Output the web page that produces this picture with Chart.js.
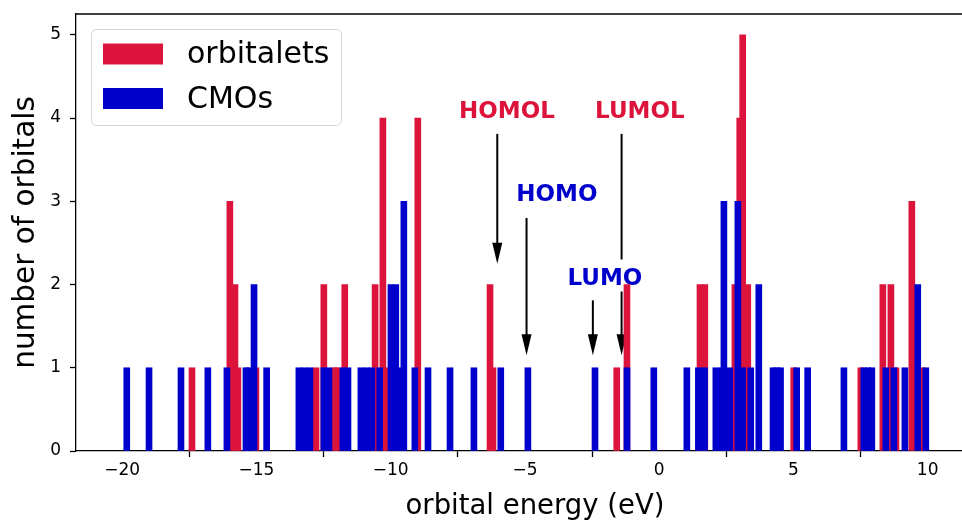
<!DOCTYPE html>
<html>
<head>
<meta charset="utf-8">
<title>orbital energies</title>
<script src="https://cdn.jsdelivr.net/npm/chart.js@4.4.1/dist/chart.umd.min.js"></script>
<style>
  html, body { margin: 0; padding: 0; background: #fff; overflow: hidden; }
  #wrap { width: 962px; height: 520px; position: relative; overflow: hidden; }
  #chart { display: block; }
</style>
</head>
<body>
<div id="wrap"><canvas id="chart" width="1010" height="520"></canvas></div>
<script>
// orbital energies (eV) and the number of orbitals found at each one
var orbitaletEnergies = [-17.40, -15.99, -15.80, -15.69, -15.02, -12.78, -12.49, -12.08, -11.99, -11.71,
  -10.58, -10.29, -10.20, -8.99, -6.30, -6.19, -1.58, -1.20, 1.52, 1.70,
  2.82, 3.00, 3.11, 3.30, 5.01, 7.51, 8.33, 8.63, 8.82, 9.41, 9.78];
var orbitaletCounts = [1, 3, 2, 1, 1, 1, 2, 1, 1, 2,
  2, 4, 1, 4, 2, 1, 1, 2, 2, 2,
  2, 4, 5, 2, 1, 1, 2, 2, 1, 3, 1];

var cmoEnergies = [-19.83, -19.00, -17.81, -16.81, -16.10, -15.39, -15.28, -15.09, -14.62, -13.42,
  -13.22, -13.01, -12.49, -12.30, -11.78, -11.59, -11.11, -10.90, -10.70, -10.41,
  -9.99, -9.81, -9.66, -9.51, -9.10, -8.61, -7.79, -6.90, -5.90, -4.89,
  -2.39, -1.20, -0.20, 1.03, 1.46, 1.69, 2.11, 2.33, 2.41, 2.63,
  2.93, 3.11, 3.41, 3.71, 4.24, 4.38, 4.52, 5.12, 5.53, 6.88,
  7.62, 7.77, 7.92, 8.44, 8.74, 9.15, 9.63, 9.93];
var cmoCounts = [1, 1, 1, 1, 1, 1, 1, 2, 1, 1,
  1, 1, 1, 1, 1, 1, 1, 1, 1, 1,
  2, 2, 1, 3, 1, 1, 1, 1, 1, 1,
  1, 1, 1, 1, 1, 1, 1, 1, 3, 1,
  3, 1, 1, 2, 1, 1, 1, 1, 1, 1,
  1, 1, 1, 1, 1, 1, 2, 1];

var seriesNames = ["orbitalets", "CMOs"];
var xTicks = [-20, -15, -10, -5, 0, 5, 10];
var yTicks = [0, 1, 2, 3, 4, 5];

var RED = "#DC143C";
var BLUE = "#0000CD";
var FONT = "'DejaVu Sans', 'Liberation Sans', sans-serif";

// frontier orbital arrows (energy, arrow top/bottom in counts, label anchor)
var markers = [
  { label: "HOMOL", color: RED,  x: -6.03, from: 3.81, to: 2.25, tx: -5.67, ty: 4.0 },
  { label: "HOMO",  color: BLUE, x: -4.94, from: 2.80, to: 1.15, tx: -3.81, ty: 3.0 },
  { label: "LUMOL", color: RED,  x: -1.40, from: 3.81, to: 1.15, tx: -0.72, ty: 4.0 },
  { label: "LUMO",  color: BLUE, x: -2.47, from: 1.81, to: 1.15, tx: -2.02, ty: 2.0, knockout: true }
];

function toPoints(xs, ys) {
  return xs.map(function (v, i) { return { x: v, y: ys[i] }; });
}

var markerPlugin = {
  id: "markers",
  beforeDatasetsDraw: function (chart) {
    var ctx = chart.ctx, sx = chart.scales.x, sy = chart.scales.y;
    ctx.save();
    markers.forEach(function (m) {
      var px = sx.getPixelForValue(m.x);
      var y0 = sy.getPixelForValue(m.from), y1 = sy.getPixelForValue(m.to);
      ctx.strokeStyle = "#000";
      ctx.lineWidth = 2;
      ctx.beginPath();
      ctx.moveTo(px, y0);
      ctx.lineTo(px, y1 - 18);
      ctx.stroke();
      ctx.fillStyle = "#000";
      ctx.beginPath();
      ctx.moveTo(px - 5, y1 - 21);
      ctx.lineTo(px + 5, y1 - 21);
      ctx.lineTo(px, y1);
      ctx.closePath();
      ctx.fill();
    });
    ctx.font = "bold 23px " + FONT;
    ctx.textAlign = "center";
    ctx.textBaseline = "alphabetic";
    markers.forEach(function (m) {
      var tx = sx.getPixelForValue(m.tx), ty = sy.getPixelForValue(m.ty);
      if (m.knockout) {
        var w = ctx.measureText(m.label).width;
        ctx.fillStyle = "#fff";
        ctx.fillRect(tx - w / 2 - 6, ty - 25, w + 12, 32);
      }
      ctx.fillStyle = m.color;
      ctx.fillText(m.label, tx, ty);
    });
    ctx.restore();
  }
};

// top spine + framed legend in the upper left corner
var framePlugin = {
  id: "frame",
  afterDraw: function (chart) {
    var ctx = chart.ctx, a = chart.chartArea;
    ctx.save();
    ctx.strokeStyle = "#000";
    ctx.lineWidth = 1.3;
    ctx.beginPath();
    ctx.moveTo(a.left - 0.65, a.top);
    ctx.lineTo(a.right, a.top);
    ctx.stroke();

    var lx = a.left + 15, ly = a.top + 15, lw = 250, lh = 96;
    ctx.fillStyle = "rgba(255,255,255,0.8)";
    ctx.strokeStyle = "rgba(204,204,204,0.8)";
    ctx.lineWidth = 1;
    ctx.beginPath();
    ctx.roundRect(lx + 0.5, ly + 0.5, lw, lh, 5);
    ctx.fill();
    ctx.stroke();

    ctx.font = "30px " + FONT;
    ctx.textAlign = "left";
    ctx.textBaseline = "alphabetic";
    chart.data.datasets.forEach(function (ds, i) {
      var cy = ly + 25 + i * 44.5;
      ctx.fillStyle = ds.backgroundColor;
      ctx.fillRect(lx + 12, cy - 10.5, 60, 21);
      ctx.fillStyle = "#000";
      ctx.fillText(ds.label, lx + 96, cy + 9);
    });
    ctx.restore();
  }
};

Chart.defaults.font.family = FONT;

var chart = new Chart(document.getElementById("chart"), {
  type: "bar",
  data: {
    datasets: [
      {
        label: seriesNames[0],
        data: toPoints(orbitaletEnergies, orbitaletCounts),
        backgroundColor: RED,
        barThickness: 6,
        grouped: false,
        order: 2
      },
      {
        label: seriesNames[1],
        data: toPoints(cmoEnergies, cmoCounts),
        backgroundColor: BLUE,
        barThickness: 6,
        grouped: false,
        order: 1
      }
    ]
  },
  options: {
    responsive: false,
    animation: false,
    layout: { padding: { left: 0, right: 16, top: 14, bottom: 0 } },
    plugins: {
      legend: { display: false },
      tooltip: { enabled: false }
    },
    scales: {
      x: {
        type: "linear",
        min: -21.72,
        max: 12.47,
        offset: false,
        afterBuildTicks: function (s) { s.ticks = xTicks.map(function (v) { return { value: v }; }); },
        afterFit: function (s) { s.height = 69; s.paddingLeft = 0; s.paddingRight = 0; },
        grid: { drawOnChartArea: false, drawTicks: true, tickLength: 6, tickWidth: 1.3, tickColor: "#000" },
        border: { display: true, color: "#000", width: 1.3 },
        ticks: {
          color: "#000",
          font: { size: 17 },
          padding: 3,
          maxRotation: 0,
          autoSkip: false,
          callback: function (v) { return String(v).replace("-", "\u2212"); }
        },
        title: {
          display: true,
          text: "orbital energy (eV)",
          color: "#000",
          font: { size: 27.5 },
          padding: { top: 0, bottom: -3 }
        }
      },
      y: {
        min: 0,
        max: 5.25,
        afterBuildTicks: function (s) { s.ticks = yTicks.map(function (v) { return { value: v }; }); },
        afterFit: function (s) { s.width = 76; s.paddingTop = 0; s.paddingBottom = 0; },
        grid: { drawOnChartArea: false, drawTicks: true, tickLength: 6, tickWidth: 1.3, tickColor: "#000" },
        border: { display: true, color: "#000", width: 1.3 },
        ticks: { color: "#000", font: { size: 17 }, padding: 9 },
        title: {
          display: true,
          text: "number of orbitals",
          color: "#000",
          font: { size: 29.5 },
          padding: { top: 9, bottom: 0 }
        }
      }
    }
  },
  plugins: [markerPlugin, framePlugin]
});
</script>
</body>
</html>
